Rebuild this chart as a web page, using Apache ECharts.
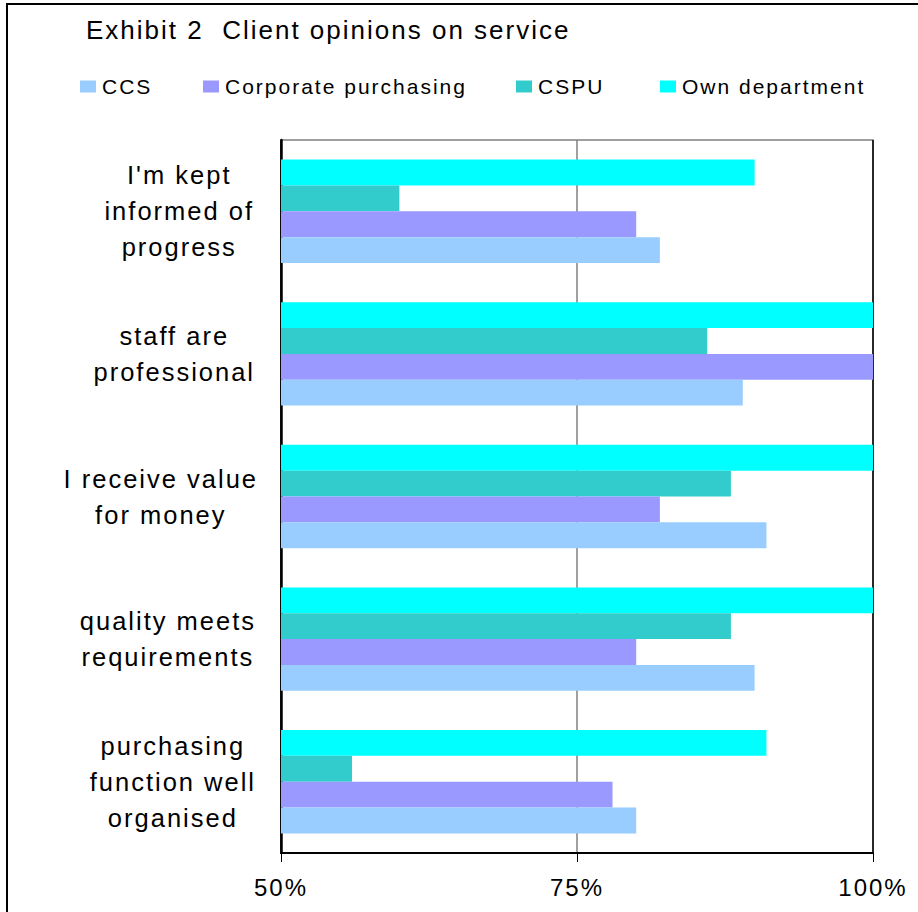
<!DOCTYPE html>
<html>
<head>
<meta charset="utf-8">
<script src="https://cdn.jsdelivr.net/npm/echarts@6/dist/echarts.min.js"></script>
<style>
html,body{margin:0;padding:0;background:#fff;}
#chart{width:918px;height:912px;}
#chart svg text{letter-spacing:2px;}
</style>
</head>
<body>
<div id="chart"></div>
<script>
// Categories listed top to bottom as in the picture
var categories = [
  "I'm kept\ninformed of\nprogress",
  "staff are\nprofessional",
  "I receive value\nfor money",
  "quality meets\nrequirements",
  "purchasing\nfunction well\norganised"
];
var seriesNames = ["CCS", "Corporate purchasing", "CSPU", "Own department"];
var ccs = [82, 89, 91, 90, 80];
var corporate = [80, 100, 82, 80, 78];
var cspu = [60, 86, 88, 88, 56];
var ownDept = [90, 100, 100, 100, 91];
var colors = ["#99CCFF", "#9999FF", "#33CCCC", "#00FFFF"];
var xTicks = [50, 75, 100];

var FONT = "'Liberation Sans', Arial, sans-serif";
var chart = echarts.init(document.getElementById('chart'), null, {renderer: 'svg'});

var rev = function (a) { return a.slice().reverse(); };
var values = [ccs, corporate, cspu, ownDept];

var legendLeft = [80, 203, 516, 660];
var legends = seriesNames.map(function (n, i) {
  return {
    data: [n], left: legendLeft[i], top: 76, padding: 0,
    icon: 'rect', itemWidth: 16, itemHeight: 12, itemGap: 0,
    selectedMode: false,
    textStyle: {fontFamily: FONT, fontSize: 21, color: '#000', padding: [0, 0, 0, 1]}
  };
});

// Series drawn in order top-to-bottom inside each group: Own, CSPU, Corporate, CCS
var drawOrder = [3, 2, 1, 0];

chart.setOption({
  animation: false,
  backgroundColor: '#fff',
  title: {
    text: 'Exhibit 2  Client opinions on service',
    left: 86, top: 17, padding: 0,
    textStyle: {fontFamily: FONT, fontSize: 26, fontWeight: 'normal', color: '#000'}
  },
  legend: legends,
  graphic: [{
    type: 'rect', silent: true, z: 100,
    shape: {x: 7, y: 4, width: 1000, height: 1000},
    style: {fill: 'none', stroke: '#000', lineWidth: 2}
  }],
  grid: {
    left: 281, right: 45, top: 140, bottom: 59,
    show: true, borderColor: '#808080', borderWidth: 1.5, backgroundColor: '#fff'
  },
  xAxis: {
    type: 'value', min: xTicks[0], max: xTicks[xTicks.length - 1], interval: 25,
    position: 'bottom',
    axisLine: {show: true, onZero: false, lineStyle: {color: '#000', width: 2}},
    axisTick: {show: true, length: 9, lineStyle: {color: '#000', width: 1}},
    splitLine: {show: true, lineStyle: {color: ['#000', '#808080'], width: 1.5}},
    axisLabel: {
      formatter: '{value}%', margin: 22,
      fontFamily: FONT, fontSize: 24, color: '#000'
    }
  },
  yAxis: {
    type: 'category', data: rev(categories),
    axisLine: {show: true, lineStyle: {color: '#000', width: 2.5}},
    axisTick: {show: false},
    splitLine: {show: false},
    axisLabel: {
      interval: 0, margin: 38, align: 'right',
      formatter: function (v) {
        return v.split('\n').map(function (l) { return '{c|' + l + '}'; }).join('\n');
      },
      rich: {c: {align: 'center', fontFamily: FONT, fontSize: 25.5, lineHeight: 36, color: '#000'}}
    }
  },
  series: drawOrder.map(function (i) {
    return {
      name: seriesNames[i], type: 'bar', data: rev(values[i]),
      barGap: '0%', barCategoryGap: '27.5%',
      itemStyle: {color: colors[i]},
      z: 1
    };
  })
});
</script>
</body>
</html>
